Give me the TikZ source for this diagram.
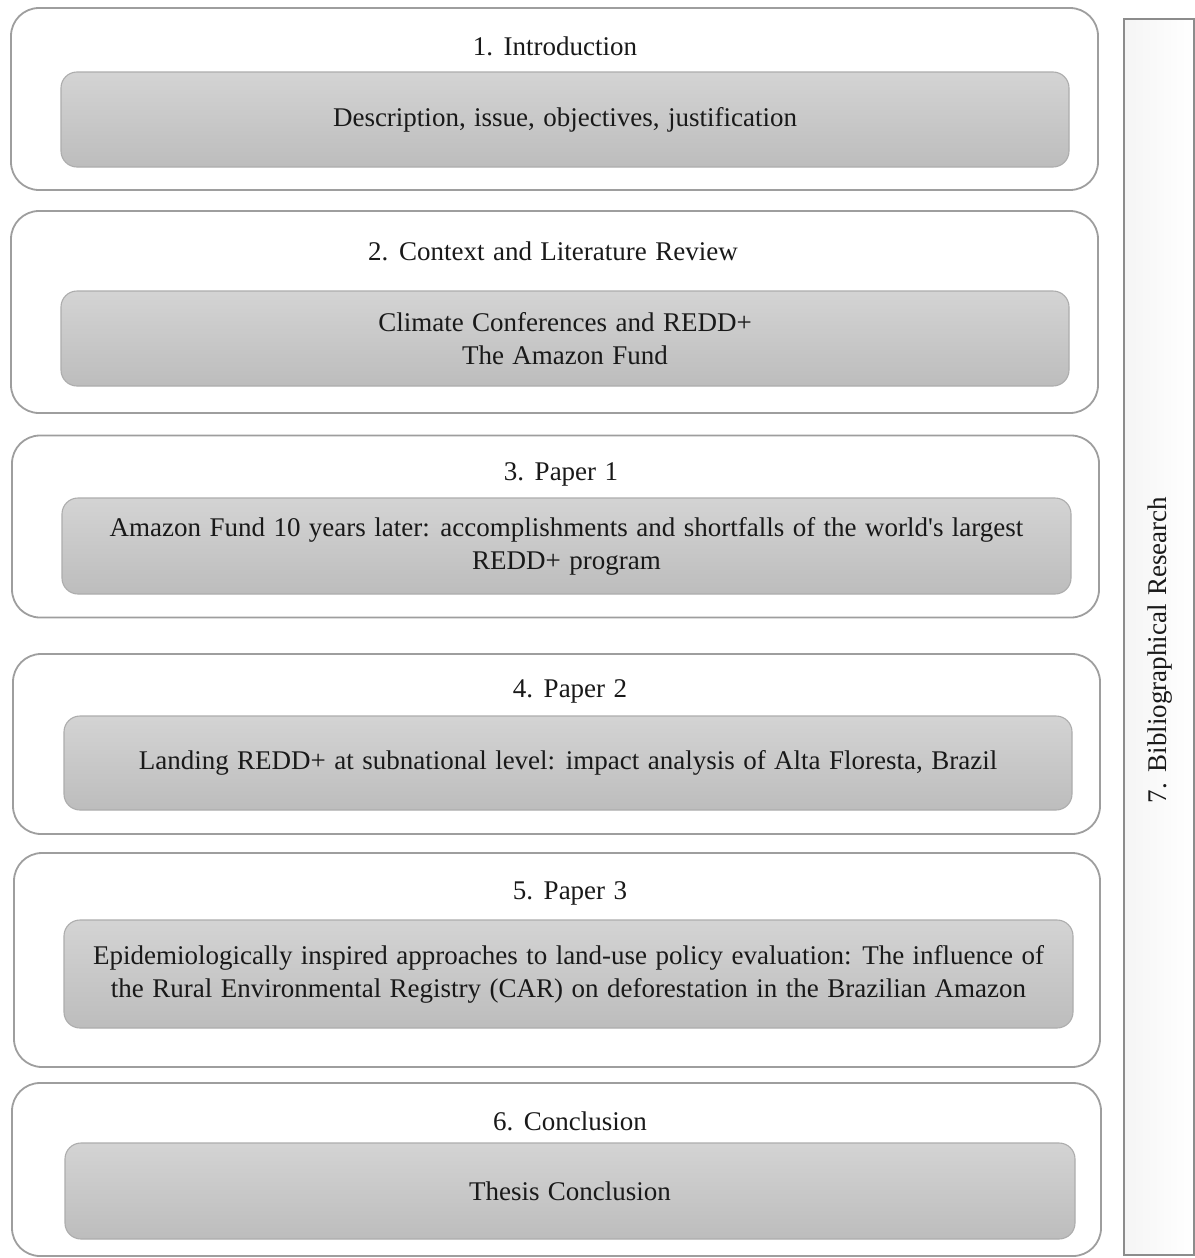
\documentclass[tikz,border=0pt]{standalone}
\usepackage{fontspec}
\setmainfont{Liberation Serif}[WordSpace=1.25]
\begin{document}
\begin{tikzpicture}[x=1pt,y=-1pt,
  frame/.style={draw=black!38, line width=1.8pt, rounded corners=28pt, fill=white,
    inner sep=0pt, outer sep=0pt},
  band/.style={draw=black!32, line width=1.1pt, rounded corners=16pt,
    top color=black!17, bottom color=black!26, inner sep=0pt, outer sep=0pt,
    align=center, text=black!90, font=\fontsize{27}{33}\selectfont},
  head/.style={inner sep=0pt, text=black!90, font=\fontsize{27}{32}\selectfont},
  sidebar/.style={draw=black!45, line width=1.2pt, left color=black!4, right color=white,
    inner sep=0pt, outer sep=0pt}]
\useasboundingbox (0,0) rectangle (1194,1258);

% section frames
\node[frame, minimum width=1087pt, minimum height=182pt] (o1) at (554.5,99) {};
\node[frame, minimum width=1087pt, minimum height=202pt] (o2) at (554.5,312) {};
\node[frame, minimum width=1087pt, minimum height=182pt] (o3) at (555.5,526.5) {};
\node[frame, minimum width=1087pt, minimum height=180pt] (o4) at (556.5,744) {};
\node[frame, minimum width=1086pt, minimum height=214pt] (o5) at (557,960) {};
\node[frame, minimum width=1089pt, minimum height=173pt] (o6) at (556.5,1169.5) {};

% section headings
\node[head] (h1) at (555,46) {1. Introduction};
\node[head] (h2) at (553,251) {2. Context and Literature Review};
\node[head] (h3) at (561,474) {3. Paper 1};
\node[head] (h4) at (570,691) {4. Paper 2};
\node[head] (h5) at (570,893) {5. Paper 3};
\node[head] (h6) at (570,1121) {6. Conclusion};

% grey content bands
\node[band, minimum width=1008pt, minimum height=95pt] (b1) at (565,119.5)
  {\raisebox{-2pt}{Description, issue, objectives, justification}};
\node[band, minimum width=1008pt, minimum height=95pt] (b2) at (565,338.5)
  {Climate Conferences and REDD+\\The Amazon Fund};
\node[band, minimum width=1009pt, minimum height=96pt] (b3) at (566.5,546)
  {Amazon Fund 10 years later: accomplishments and shortfalls of the world\textquotesingle s largest\\REDD+ program};
\node[band, minimum width=1008pt, minimum height=94pt] (b4) at (568,763)
  {\raisebox{-3pt}{Landing REDD+ at subnational level: impact analysis of Alta Floresta, Brazil}};
\node[band, minimum width=1009pt, minimum height=108pt] (b5) at (568.5,974)
  {Epidemiologically inspired approaches to land-use policy evaluation: The influence of\\the Rural Environmental Registry (CAR) on deforestation in the Brazilian Amazon};
\node[band, minimum width=1010pt, minimum height=96pt] (b6) at (570,1191)
  {\raisebox{-2pt}{Thesis Conclusion}};

% side bar spanning all sections
\node[sidebar, minimum width=70pt, minimum height=1236pt] (side) at (1159,637) {};
\node[head, rotate=90] (sidelabel) at (1160,650) {7. Bibliographical Research};
\end{tikzpicture}
\end{document}
